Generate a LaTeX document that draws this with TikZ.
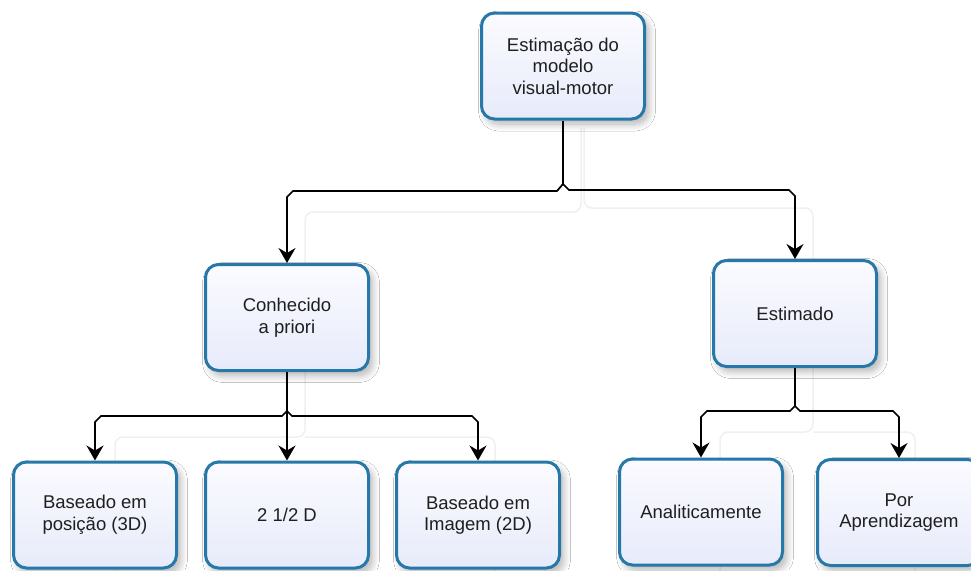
\documentclass[tikz,border=0pt]{standalone}
\usepackage{fontspec}
\setmainfont{Liberation Sans}
\usetikzlibrary{arrows.meta,shadows.blur}
\definecolor{bordc}{RGB}{38,120,168}
\definecolor{ftop}{RGB}{251,251,255}
\definecolor{fbot}{RGB}{231,235,250}
\definecolor{faintc}{RGB}{240,240,240}
\begin{document}
\begin{tikzpicture}[x=1pt,y=-1pt,
  box/.style={draw=bordc, line width=3pt, rounded corners=13pt,
    top color=ftop, bottom color=fbot,
    minimum width=163pt, minimum height=106pt, inner sep=2pt,
    align=center, font=\fontsize{18.5}{21.5}\selectfont, text=black!88,
    blur shadow={shadow xshift=4pt, shadow yshift=-5pt, shadow blur radius=7pt, shadow blur steps=10, shadow opacity=30}},
  conn/.style={draw=black, line width=1.7pt},
  tip/.style={-{Stealth[length=15pt,width=17pt,inset=5pt]}},
  faintline/.style={draw=faintc, line width=1.5pt, rounded corners=8pt}]
\useasboundingbox (0,0) rectangle (971,570);
\fill[white] (0,0) rectangle (971,570);

% faint subtree outlines
\draw[faintline] (115,575) -- (115,437) -- (305,437) -- (305,212) -- (581,212) -- (581,128);
\draw[faintline] (305,437) -- (495,437) -- (495,575);
\draw[faintline] (584,128) -- (584,208) -- (813,208) -- (813,432) -- (720,432) -- (720,575);
\draw[faintline] (813,432) -- (915,432) -- (915,575);

% nodes
\node[box] (root) at (563,66)    {Estimação do\\modelo\\visual-motor};
\node[box] (kn)   at (287,317.5) {Conhecido\\a priori};
\node[box] (est)  at (795,313.5) {Estimado};
\node[box] (b1)   at (95,515)    {Baseado em\\posição (3D)};
\node[box] (b2)   at (287,515)   {2 1/2 D};
\node[box] (b3)   at (478,515)   {Baseado em\\Imagem (2D)};
\node[box] (a1)   at (701,512)   {Analiticamente};
\node[box] (a2)   at (899,512.5) {Por\\Aprendizagem};

% junction points
\coordinate (jr) at (563,184);
\coordinate (jk) at (287,411);
\coordinate (je) at (795,406);

% connectors from root
\draw[conn] (root.south) -- (jr);
\draw[conn,tip] (jr) -- (557,191) -- (293,191) -- (287,197) -- (kn.north);
\draw[conn,tip] (jr) -- (569,190) -- (789,190) -- (795,196) -- (est.north);

% connectors from Conhecido
\draw[conn,tip] (kn.south) -- (b2.north);
\draw[conn,tip] (jk) -- (282,416) -- (101,416) -- (95,422) -- (b1.north);
\draw[conn,tip] (jk) -- (292,416) -- (472,416) -- (478,422) -- (b3.north);

% connectors from Estimado
\draw[conn] (est.south) -- (je);
\draw[conn,tip] (je) -- (790,411) -- (707,411) -- (701,417) -- (a1.north);
\draw[conn,tip] (je) -- (800,411) -- (893,411) -- (899,417) -- (a2.north);
\end{tikzpicture}
\end{document}
